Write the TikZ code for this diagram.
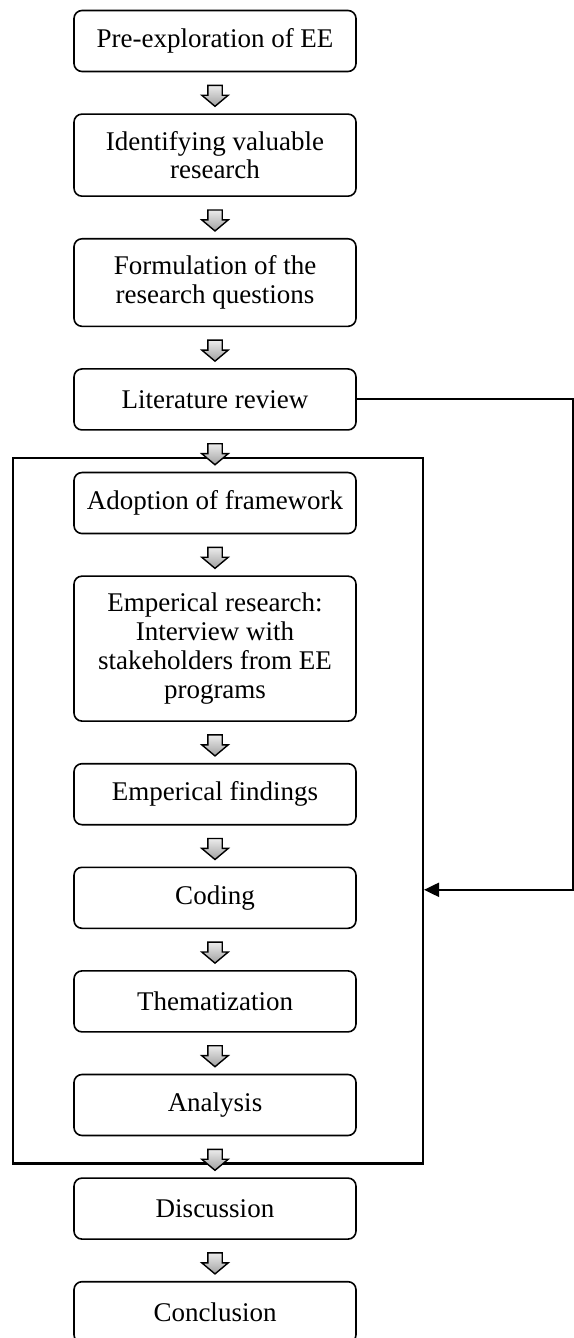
\documentclass[tikz,border=0pt]{standalone}
\usepackage{fontspec}
\setmainfont{Liberation Serif}
\usepackage{tikz}
\usetikzlibrary{shapes.arrows,arrows.meta,positioning,fit,calc}
\definecolor{arrowgray}{RGB}{150,150,150}

\begin{document}
\begin{tikzpicture}[
  font=\fontsize{13.5}{14.4}\selectfont, >=Stealth,
  process/.style={rectangle, rounded corners=4pt, draw, line width=0.8pt,
    minimum width=141pt, minimum height=30.5pt, inner ysep=8.5pt,
    align=center},
  downarr/.style={single arrow, shape border rotate=270, draw,
    line width=0.7pt, minimum height=10.5pt, inner sep=3.25pt,
    single arrow head extend=3pt, single arrow tip angle=100,
    top color=gray!15, bottom color=arrowgray!90},
  frame/.style={rectangle, draw, line width=1.2pt, inner sep=0pt},
  fb/.style={line width=1pt, -{Triangle[length=7.5pt,width=7pt]}},
]
\useasboundingbox (0,0) rectangle (286.5pt,-669pt);

\node[process] (pre) at (107.5pt,-20.5pt) {Pre-exploration of EE};
\node[process, below=20.5pt of pre]    (ident)  {Identifying valuable\\research};
\node[process, below=20.5pt of ident]  (formul) {Formulation of the\\research questions};
\node[process, below=20.5pt of formul] (lit)    {Literature review};

% empirical phase
\node[process, below=20.5pt of lit]      (adopt)    {Adoption of framework};
\node[process, below=20.5pt of adopt]    (empres)   {Emperical research:\\Interview with\\stakeholders from EE\\programs};
\node[process, below=20.5pt of empres]   (empfind)  {Emperical findings};
\node[process, below=20.5pt of empfind]  (coding)   {Coding};
\node[process, below=20.5pt of coding]   (themat)   {Thematization};
\node[process, below=20.5pt of themat]   (analysis) {Analysis};

\node[process, below=20.5pt of analysis] (discuss)  {Discussion};
\node[process, below=20.5pt of discuss]  (concl)    {Conclusion};

% frame round the empirical phase
\coordinate (ftl) at ($(adopt.north west)+(-30pt,7pt)$);
\coordinate (fbr) at ($(analysis.south east)+(33pt,-13.5pt)$);
\node[frame, fit=(ftl)(fbr)] (phase) {};

% block arrows between the steps
\node[downarr] (a1)  at ($(pre.south)!0.5!(ident.north)$) {};
\node[downarr] (a2)  at ($(ident.south)!0.5!(formul.north)$) {};
\node[downarr] (a3)  at ($(formul.south)!0.5!(lit.north)$) {};
\node[downarr] (a4)  at ($(lit.south)!0.5!(adopt.north)$) {};
\node[downarr] (a5)  at ($(adopt.south)!0.5!(empres.north)$) {};
\node[downarr] (a6)  at ($(empres.south)!0.5!(empfind.north)$) {};
\node[downarr] (a7)  at ($(empfind.south)!0.5!(coding.north)$) {};
\node[downarr] (a8)  at ($(coding.south)!0.5!(themat.north)$) {};
\node[downarr] (a9)  at ($(themat.south)!0.5!(analysis.north)$) {};
\node[downarr] (a10) at ($(analysis.south)!0.5!(discuss.north)$) {};
\node[downarr] (a11) at ($(discuss.south)!0.5!(concl.north)$) {};

% feedback from the literature review
\draw[fb] (lit.east) -- ++(108pt,0) |- ($(phase.east |- coding.east)+(0,4pt)$);

\end{tikzpicture}
\end{document}
